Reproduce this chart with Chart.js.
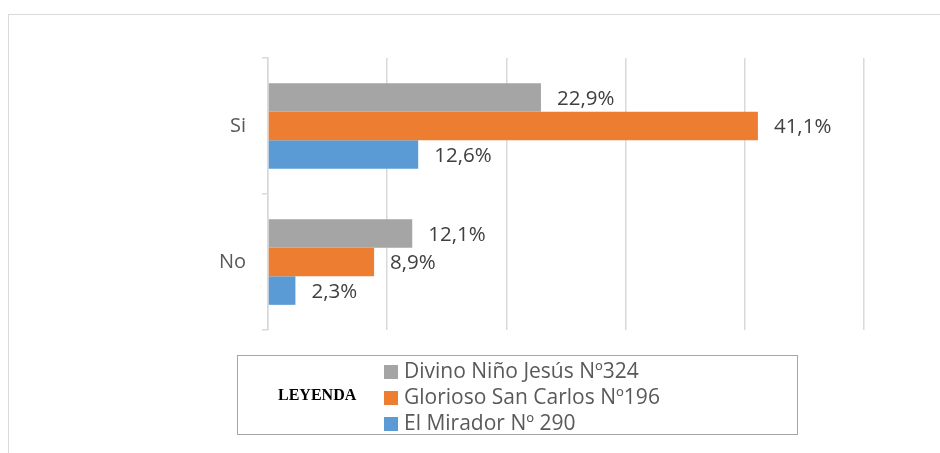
<!DOCTYPE html>
<html>
<head>
<meta charset="utf-8">
<script src="https://cdn.jsdelivr.net/npm/chart.js@4"></script>
<style>
  html, body { margin: 0; padding: 0; background: #fff; overflow: hidden; }
  #wrap { position: relative; width: 940px; height: 453px; }
  #frame { position: absolute; left: 8px; top: 14px; width: 1000px; height: 1000px;
           border: 1.5px solid #d9d9d9; box-sizing: border-box; }
  canvas { position: absolute; left: 0; top: 0; }
  #legend { position: absolute; left: 237px; top: 355px; width: 561px; height: 80px;
            border: 1.5px solid #a6a6a6; box-sizing: border-box;
            font-family: "Open Sans", sans-serif; color: #595959; }
  #legend .title { position: absolute; left: 40px; top: 0; height: 78px; line-height: 78px;
                   font-family: "Liberation Serif", serif; font-weight: bold; font-size: 16px; color: #000; }
  #legend .item { position: absolute; left: 146px; height: 26px; line-height: 26px; font-size: 21px; white-space: nowrap; }
  #legend .item span.box { display: inline-block; width: 14px; height: 14px; margin-right: 6px; vertical-align: -1px; }
</style>
</head>
<body>
<div id="wrap">
  <div id="frame"></div>
  <canvas id="chart" width="940" height="453"></canvas>
  <div id="legend"><div class="title">LEYENDA</div></div>
</div>
<script>
// categories and series (percent)
const categories = ['Si', 'No'];
const seriesNames = ['Divino Niño Jesús Nº324', 'Glorioso San Carlos Nº196', 'El Mirador Nº 290'];
const divinoNino = [22.9, 12.1];
const gloriosoSanCarlos = [41.1, 8.9];
const elMirador = [12.6, 2.3];
const colors = ['#a5a5a5', '#ed7d31', '#5b9bd5'];

const seriesValues = [divinoNino, gloriosoSanCarlos, elMirador];

// value labels at the end of each bar
const valueLabels = {
    id: 'valueLabels',
    afterDatasetsDraw(chart) {
        const ctx = chart.ctx;
        ctx.save();
        ctx.font = '20.5px "Open Sans", sans-serif';
        ctx.fillStyle = '#404040';
        ctx.textBaseline = 'middle';
        ctx.textAlign = 'left';
        chart.data.datasets.forEach(function(ds, i) {
            const meta = chart.getDatasetMeta(i);
            meta.data.forEach(function(bar, j) {
                const txt = ds.data[j].toFixed(1).replace('.', ',') + '%';
                ctx.fillText(txt, bar.x + 16, bar.y + 1.5);
            });
        });
        ctx.restore();
    }
};

const chart = new Chart(document.getElementById('chart'), {
    type: 'bar',
    data: {
        labels: categories,
        datasets: seriesNames.map(function(name, i) {
            return {
                label: name,
                data: seriesValues[i],
                backgroundColor: colors[i],
                categoryPercentage: 0.63,
                barPercentage: 1.0
            };
        })
    },
    options: {
        indexAxis: 'y',
        responsive: false,
        animation: false,
        events: [],
        layout: { padding: { left: 0, right: 76, top: 58, bottom: 123 } },
        plugins: {
            legend: { display: false },
            tooltip: { enabled: false }
        },
        scales: {
            x: {
                min: 0,
                max: 50,
                ticks: { display: false, stepSize: 10 },
                grid: { color: '#d9d9d9', lineWidth: 1.5, drawTicks: false },
                border: { display: false },
                afterFit: function(scale) { scale.height = 0; }
            },
            y: {
                ticks: {
                    color: '#595959',
                    font: { family: '"Open Sans", sans-serif', size: 20 },
                    padding: 16
                },
                grid: { color: '#d9d9d9', lineWidth: 1.5, drawOnChartArea: false, drawTicks: true, tickLength: 6, offset: true },
                border: { display: true, color: '#d9d9d9', width: 1.5 },
                afterFit: function(scale) { scale.width = 268; }
            }
        }
    },
    plugins: [valueLabels]
});

// legend box built from the series names
const legend = document.getElementById('legend');
seriesNames.forEach(function(name, i) {
    const row = document.createElement('div');
    row.className = 'item';
    row.style.top = (1 + i * 26) + 'px';
    const box = document.createElement('span');
    box.className = 'box';
    box.style.background = colors[i];
    row.appendChild(box);
    row.appendChild(document.createTextNode(name));
    legend.appendChild(row);
});
</script>
</body>
</html>
